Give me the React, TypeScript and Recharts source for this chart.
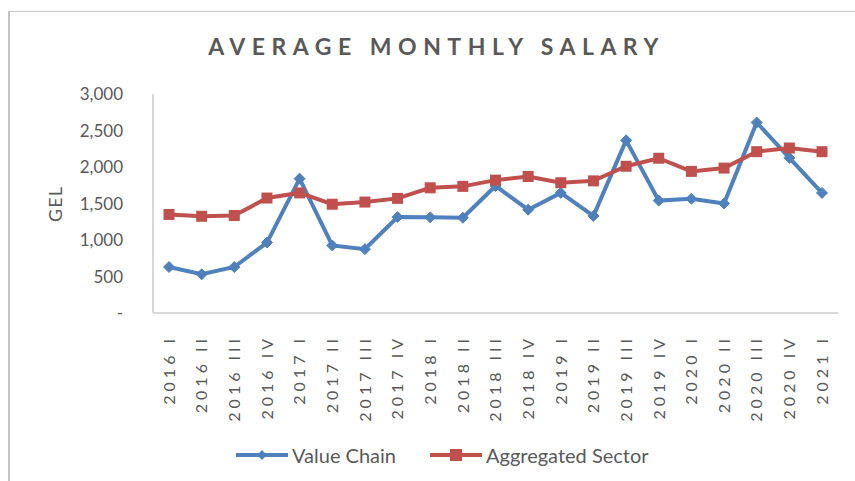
import React from 'react'
import { LineChart, Line, XAxis, YAxis, Legend } from 'recharts'

// Quarter labels on the category axis
const QUARTERS = [
  '2016 I', '2016 II', '2016 III', '2016 IV',
  '2017 I', '2017 II', '2017 III', '2017 IV',
  '2018 I', '2018 II', '2018 III', '2018 IV',
  '2019 I', '2019 II', '2019 III', '2019 IV',
  '2020 I', '2020 II', '2020 III', '2020 IV',
  '2021 I',
]

const VALUE_CHAIN = [
  630, 530, 630, 965,
  1840, 925, 875, 1315,
  1310, 1305, 1740, 1415,
  1645, 1330, 2365, 1540,
  1565, 1500, 2610, 2125,
  1645,
]

const AGGREGATED_SECTOR = [
  1350, 1325, 1335, 1575,
  1645, 1490, 1520, 1570,
  1715, 1735, 1820, 1870,
  1785, 1810, 2010, 2120,
  1940, 1985, 2210, 2260,
  2210,
]

const Y_TICKS = [0, 500, 1000, 1500, 2000, 2500, 3000]

const BLUE = '#4f81bd'
const RED = '#c0504d'
const TEXT = '#595959'
const AXIS = '#d9d9d9'
const FONT = 'Lato, "Open Sans", sans-serif'

const data = QUARTERS.map((q, i) => ({
  quarter: q,
  valueChain: VALUE_CHAIN[i],
  aggregated: AGGREGATED_SECTOR[i],
}))

const fmtY = (v: number) => (v === 0 ? '-' : v.toLocaleString('en-US'))

function Diamond({ cx, cy }: { cx?: number; cy?: number }) {
  if (cx == null || cy == null) return null
  const r = 5.5
  return (
    <path
      d={`M${cx},${cy - r} L${cx + r},${cy} L${cx},${cy + r} L${cx - r},${cy} Z`}
      fill={BLUE}
      stroke={BLUE}
    />
  )
}

function Square({ cx, cy }: { cx?: number; cy?: number }) {
  if (cx == null || cy == null) return null
  const s = 5.5
  return <rect x={cx - s} y={cy - s} width={s * 2} height={s * 2} fill={RED} />
}

// rotated quarter labels, read bottom-to-top
function QuarterTick({ x, y, payload }: { x: number; y: number; payload: { value: string } }) {
  return (
    <g transform={`translate(${x},${y + 16})`}>
      <text
        transform="rotate(-90)"
        textAnchor="end"
        dy="0.36em"
        fontSize={16}
        letterSpacing={4}
        fill={TEXT}
        fontFamily={FONT}
      >
        {payload.value}
      </text>
    </g>
  )
}

function LegendContent() {
  const item = (color: string, label: string, marker: React.ReactNode, gap: number) => (
    <div style={{ display: 'flex', alignItems: 'center', marginRight: gap }}>
      <svg width={56} height={14}>
        <line x1={2} y1={7} x2={54} y2={7} stroke={color} strokeWidth={4} />
        {marker}
      </svg>
      <span style={{ marginLeft: 2, fontSize: 20, color: TEXT, fontFamily: FONT }}>{label}</span>
    </div>
  )
  return (
    <div style={{ display: 'flex', justifyContent: 'flex-start', paddingLeft: 234 }}>
      {item(BLUE, 'Value Chain', <path d="M28,2 L33,7 L28,12 L23,7 Z" fill={BLUE} />, 32)}
      {item(RED, 'Aggregated Sector', <rect x={22} y={1} width={12} height={12} fill={RED} />, 0)}
    </div>
  )
}

export default function App() {
  return (
    <div
      style={{
        position: 'absolute',
        left: 0,
        top: 0,
        width: 855,
        height: 481,
        overflow: 'hidden',
        background: '#fff',
        fontFamily: FONT,
      }}
    >
      <div
        style={{
          position: 'absolute',
          left: 8,
          top: 11,
          width: 900,
          height: 520,
          borderLeft: '2px solid #c4c4c4',
          borderTop: '1px solid #c4c4c4',
        }}
      />
      <div
        style={{
          position: 'absolute',
          left: 0,
          top: 32,
          width: 873,
          textAlign: 'center',
          fontSize: 23,
          fontWeight: 700,
          letterSpacing: 6.5,
          color: TEXT,
        }}
      >
        AVERAGE MONTHLY SALARY
      </div>
      <div
        style={{
          position: 'absolute',
          left: 55,
          top: 204,
          transform: 'translate(-50%, -50%) rotate(-90deg)',
          fontSize: 18,
          color: TEXT,
          letterSpacing: 1,
        }}
      >
        GEL
      </div>
      <LineChart
        width={855}
        height={481}
        data={data}
        margin={{ top: 94, right: 17, left: 0, bottom: 8 }}
        style={{ position: 'absolute', left: 0, top: 0 }}
      >
        <XAxis
          dataKey="quarter"
          interval={0}
          height={160}
          padding={{ left: 16, right: 16 }}
          tickLine={false}
          tickMargin={0}
          stroke={AXIS}
          strokeWidth={2}
          tick={QuarterTick as any}
        />
        <YAxis
          width={153}
          domain={[0, 3000]}
          ticks={Y_TICKS}
          tickFormatter={fmtY}
          tickLine={false}
          tickMargin={24}
          stroke={AXIS}
          strokeWidth={2}
          tick={{ fill: TEXT, fontSize: 17, fontFamily: FONT }}
          interval={0}
        />
        <Legend
          verticalAlign="middle"
          align="center"
          wrapperStyle={{ top: 443, left: 0, width: 855 }}
          content={<LegendContent />}
        />
        <Line
          dataKey="valueChain"
          name="Value Chain"
          stroke={BLUE}
          strokeWidth={4}
          dot={<Diamond />}
          activeDot={false}
          isAnimationActive={false}
        />
        <Line
          dataKey="aggregated"
          name="Aggregated Sector"
          stroke={RED}
          strokeWidth={4}
          dot={<Square />}
          activeDot={false}
          isAnimationActive={false}
        />
      </LineChart>
    </div>
  )
}
